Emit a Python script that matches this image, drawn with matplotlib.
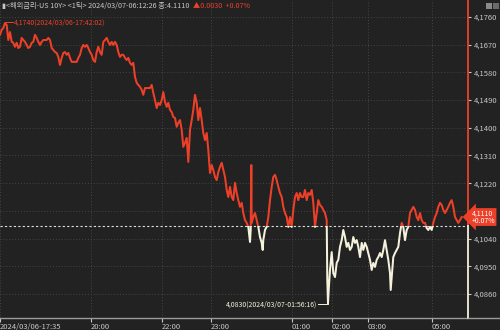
import matplotlib
matplotlib.use('Agg')
import matplotlib.pyplot as plt
from matplotlib.patches import Rectangle
from matplotlib.lines import Line2D
from matplotlib.transforms import blended_transform_factory

plt.rcParams['font.family'] = ['Noto Sans CJK KR', 'DejaVu Sans']

# tick-chart position (x) of each sample and US 10Y yield
tick_pos = [
    0, 1.7, 3.3, 5, 6.7, 8.3, 10, 11.7, 13.3, 15, 16.7, 18.3, 20, 21.7, 23.3, 25,
    26.7, 28.3, 30, 31.7, 33.3, 35, 36.7, 38.3, 40, 41.7, 43.3, 46.7, 48.3, 50,
    51.7, 53.3, 55, 56.7, 58.3, 60, 61.7, 63.3, 65, 66.7, 68.3, 70, 71.7, 73.3,
    76.7, 78.3, 80, 81.7, 83.3, 85, 86.7, 88.3, 90, 91.7, 93.3, 95, 96.7, 98.3,
    100, 101.7, 103.3, 105, 106.7, 108.3, 110, 111.7, 113.3, 115, 116.7, 118.3,
    120, 121.7, 123.3, 125, 126.7, 128.3, 130, 131.7, 133.3, 135, 136.7, 138.3,
    140, 141.7, 143.3, 145, 146.7, 150, 151.7, 153.3, 155, 156.7, 158.3, 160,
    161.7, 163.3, 165, 166.7, 168.3, 170, 171.7, 173.3, 175, 176.7, 178.3, 180,
    181.7, 183.3, 185, 186.7, 188.3, 190, 191.7, 193.3, 195, 196.7, 198.3, 200,
    201.7, 203.3, 205, 206.7, 208.3,
    210, 211.7, 213.3, 215, 216.7, 218.3, 220, 221.7, 223.3, 225, 226.7, 228.3,
    230, 231.7, 233.3, 235, 236.7, 238.3, 240, 241.7, 243.3, 245, 246.7, 248.3,
    250, 250.7, 251.3, 251.7, 253.3, 255, 256.7, 258.3, 260, 261.7, 262.7, 263.3,
    265, 266.7, 268.3, 270, 271.7, 273.3, 275, 276.7, 278.3, 280, 281.7, 283.3,
    285, 286.7, 288.3, 290, 291.7, 293.3, 295, 296.7, 298.3, 300, 301.7, 303.3,
    305, 306.7, 308.3, 310, 311.7, 313.3, 315, 316.7, 318.3, 320, 321.7, 323.3,
    325, 326.7, 327.3, 328,
    328.7, 330, 331.7, 333.3, 335, 336.7, 338.3, 340, 341.7, 343.3, 345, 346.7,
    348.3, 350, 351.7, 353.3, 355, 356.7, 358.3, 360, 361.7, 363.3, 365, 366.7,
    368.3, 370, 371.7, 373.3, 375, 376.7, 378.3, 380, 381.7, 383.3, 385, 386.7,
    388.3, 390, 390.7, 391.7, 393.3, 395, 396.7, 398.3, 400, 401.7, 403.3, 405,
    406.7, 408.3, 410, 411.7, 413.3, 415, 416.7, 418.3, 420, 421.7, 423.3, 425,
    426.7, 428.3, 430, 431.7, 433.3, 435, 436.7, 438.3, 440, 441.7, 443.3, 445,
    446.7, 448.3, 450, 451.7, 453.3, 455, 456.7, 458.3, 460, 461.7,
]
yield_val = [
    4.1702, 4.1718, 4.1724, 4.1740, 4.1734, 4.1685, 4.1711, 4.1679, 4.1676, 4.1663,
    4.1676, 4.1659, 4.1663, 4.1692, 4.1685, 4.1679, 4.1669, 4.1659, 4.1663, 4.1676,
    4.1679, 4.1702, 4.1692, 4.1679, 4.1669, 4.1679, 4.1685, 4.1685, 4.1692, 4.1685,
    4.1659, 4.1653, 4.1646, 4.1643, 4.1630, 4.1604, 4.1627, 4.1643, 4.1646, 4.1637,
    4.1643, 4.1627, 4.1614, 4.1614, 4.1614, 4.1627, 4.1637, 4.1659, 4.1669, 4.1663,
    4.1669, 4.1659, 4.1646, 4.1637, 4.1620, 4.1614, 4.1646, 4.1663, 4.1646, 4.1637,
    4.1679, 4.1685, 4.1692, 4.1679, 4.1669, 4.1679, 4.1669, 4.1679, 4.1669, 4.1646,
    4.1630, 4.1637, 4.1637, 4.1627, 4.1620, 4.1627, 4.1611, 4.1604, 4.1611, 4.1565,
    4.1546, 4.1539, 4.1533, 4.1523, 4.1507, 4.1529, 4.1529, 4.1529, 4.1539, 4.1513,
    4.1490, 4.1464, 4.1481, 4.1474, 4.1490, 4.1516, 4.1484, 4.1468, 4.1481, 4.1458,
    4.1451, 4.1435, 4.1432, 4.1403, 4.1416, 4.1425, 4.1393, 4.1338, 4.1351, 4.1367,
    4.1289, 4.1393, 4.1425, 4.1458, 4.1507, 4.1481, 4.1425, 4.1464, 4.1425, 4.1383,
    4.1360, 4.1383, 4.1328,
    4.1253, 4.1279, 4.1263, 4.1240, 4.1230, 4.1256, 4.1273, 4.1286, 4.1263, 4.1240,
    4.1198, 4.1175, 4.1208, 4.1175, 4.1165, 4.1221, 4.1188, 4.1165, 4.1143, 4.1156,
    4.1123, 4.1100, 4.1091, 4.1078, 4.1029, 4.1068, 4.1279, 4.1091, 4.1110, 4.1123,
    4.1100, 4.1078, 4.1045, 4.1026, 4.1003, 4.1035, 4.1068, 4.1078, 4.1110, 4.1165,
    4.1208, 4.1240, 4.1247, 4.1230, 4.1208, 4.1188, 4.1175, 4.1143, 4.1123, 4.1110,
    4.1078, 4.1110, 4.1078, 4.1133, 4.1175, 4.1188, 4.1165, 4.1188, 4.1175, 4.1175,
    4.1198, 4.1165, 4.1188, 4.1182, 4.1198, 4.1156, 4.1078, 4.1123, 4.1165, 4.1149,
    4.1143, 4.1133, 4.1123, 4.1100, 4.0905, 4.0830,
    4.0873, 4.0938, 4.0996, 4.0928, 4.0915, 4.0961, 4.0971, 4.1013, 4.1035, 4.1068,
    4.1045, 4.1013, 4.1026, 4.1003, 4.1013, 4.1045, 4.1026, 4.1035, 4.1013, 4.0980,
    4.1026, 4.1003, 4.1026, 4.1013, 4.0993, 4.0971, 4.0938, 4.0961, 4.0948, 4.0971,
    4.0980, 4.0993, 4.0980, 4.1003, 4.1035, 4.1003, 4.0971, 4.0928, 4.0873, 4.0915,
    4.0980, 4.0993, 4.1003, 4.1013, 4.1058, 4.1091, 4.1078, 4.1035, 4.1068, 4.1078,
    4.1123, 4.1133, 4.1143, 4.1133, 4.1110, 4.1100, 4.1123, 4.1100, 4.1091, 4.1091,
    4.1074, 4.1068, 4.1078, 4.1068, 4.1091, 4.1110, 4.1123, 4.1143, 4.1156, 4.1149,
    4.1133, 4.1123, 4.1133, 4.1143, 4.1156, 4.1165, 4.1143, 4.1110, 4.1100, 4.1091,
    4.1100, 4.1110,
]

prev_close = 4.1080
last_val = 4.1110
high_val, high_pos = 4.1740, 5
low_val, low_pos = 4.0830, 328

price_ticks = [4.1760, 4.1670, 4.1580, 4.1490, 4.1400, 4.1310, 4.1220,
               4.1130, 4.1040, 4.0950, 4.0860]
time_pos = [0, 91, 162, 211, 292, 332, 368, 432]
time_labels = ['2024/03/06-17:35', '20:00', '22:00', '23:00',
               '01:00', '02:00', '03:00', '05:00']

BG = '#222222'
RED = '#ee4029'
WHITE = '#f4f2dc'
GRID = '#454545'
TXT = '#c8c8c8'

fig = plt.figure(figsize=(5, 3.3), dpi=100, facecolor=BG)
ax = fig.add_axes([0, 12 / 330, 468 / 500, 318 / 330], facecolor=BG)
ax.set_xlim(0, 468)
ax.set_ylim(4.0782, 4.1815)

# price line: red above previous close, white below
lr, = ax.plot(tick_pos, yield_val, color=RED, lw=1.45, zorder=3)
lw_, = ax.plot(tick_pos, yield_val, color=WHITE, lw=1.45, zorder=3)
lr.set_clip_path(Rectangle((0, prev_close), 468, 1, transform=ax.transData))
lw_.set_clip_path(Rectangle((0, 4.0), 468, prev_close - 4.0, transform=ax.transData))

ax.axhline(prev_close, color='#dddddd', lw=0.8, ls=(0, (2, 2)), zorder=2)

# grid / ticks (4,1130 sits under the current-price box)
ax.set_yticks(price_ticks)
ax.set_yticklabels(['' if abs(v - 4.113) < 1e-6 else ('%.4f' % v).replace('.', ',')
                    for v in price_ticks])
ax.yaxis.tick_right()
ax.set_xticks(time_pos)
ax.set_xticklabels(time_labels, ha='left')
ax.grid(True, color=GRID, ls=(0, (1, 2)), lw=0.7)
ax.tick_params(axis='y', colors=TXT, labelsize=5.5, length=2, pad=2)
ax.tick_params(axis='x', colors=TXT, labelsize=5.5, length=3, pad=0.5)
for s in ['top', 'left', 'right']:
    ax.spines[s].set_visible(False)
ax.spines['bottom'].set_color('#9a9a9a')
ax.spines['bottom'].set_linewidth(1.0)
fig.add_artist(Line2D([468 / 500, 1], [12 / 330, 12 / 330], color='#9a9a9a', lw=1.0))

# right border coloured by side of previous close
ax.plot([468, 468], [prev_close, 4.1815], color=RED, lw=1.3, clip_on=False, zorder=4)
ax.plot([468, 468], [4.0782, prev_close], color=WHITE, lw=1.3, clip_on=False, zorder=4)

# current price box
bt = blended_transform_factory(ax.transAxes, ax.transData)
ax.text(1.008, last_val, '4,1110\n+0.07%', transform=bt, ha='left', va='center',
        color='white', fontsize=5, linespacing=0.95, zorder=6,
        bbox=dict(boxstyle='larrow,pad=0.15', fc=RED, ec='none'))

# high / low annotations
ax.plot([high_pos, high_pos, 13], [high_val, high_val + 0.0003, high_val + 0.0003],
        color=RED, lw=0.7, zorder=4)
ax.text(14, high_val + 0.0003, '4,1740(2024/03/06-17:42:02)', color=RED,
        fontsize=5, va='center', ha='left')
ax.plot([318, low_pos, low_pos], [low_val - 0.0003, low_val - 0.0003, low_val],
        color=WHITE, lw=0.7, zorder=4)
ax.text(317, low_val - 0.0003, '4,0830(2024/03/07-01:56:16)', color=WHITE,
        fontsize=5, va='center', ha='right')

# header
head = fig.text(2 / 500, 1 - 6 / 330,
                '▮<해외금리-US 10Y> <1틱> 2024/03/07-06:12:26 종:4.1110',
                color=TXT, fontsize=5.2, va='center', ha='left')
fig.add_artist(matplotlib.text.Annotation(
    '▲0.0030  +0.07%', xy=(1, 0.5), xycoords=head, xytext=(2.5, 0),
    textcoords='offset points', color=RED, fontsize=5.2, va='center', ha='left'))

# small window icons at top-right
fig.add_artist(Rectangle((486 / 500, 1 - 9 / 330), 6 / 500, 6 / 330,
                         fc='#8a8a8a', ec='none'))
fig.add_artist(Rectangle((493 / 500, 1 - 9 / 330), 6 / 500, 6 / 330,
                         fc='#6a6a6a', ec='none'))

fig.savefig('out.png', dpi=100, facecolor=BG)
